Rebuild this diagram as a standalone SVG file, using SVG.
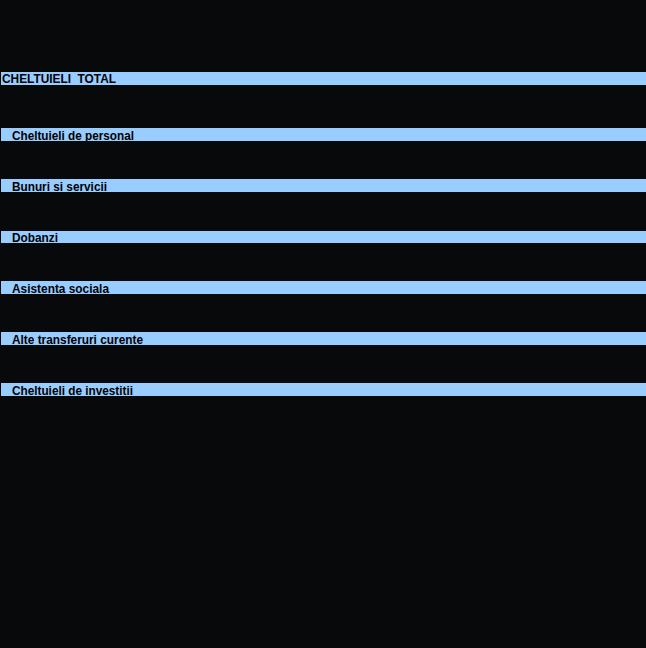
<svg xmlns="http://www.w3.org/2000/svg" width="646" height="648" viewBox="0 0 646 648">
<style>
.bar{fill:#99ccff}
.lbl{font-family:"Liberation Sans",Arial,sans-serif;font-weight:bold;font-size:13px;fill:#000}
</style>
<defs>
<clipPath id="c1"><rect x="1" y="72" width="645" height="13"/></clipPath>
<clipPath id="c2"><rect x="1" y="128" width="645" height="13"/></clipPath>
<clipPath id="c3"><rect x="1" y="179" width="645" height="13"/></clipPath>
<clipPath id="c4"><rect x="1" y="231" width="645" height="12"/></clipPath>
<clipPath id="c5"><rect x="1" y="281" width="645" height="13"/></clipPath>
<clipPath id="c6"><rect x="1" y="332" width="645" height="13"/></clipPath>
<clipPath id="c7"><rect x="1" y="383" width="645" height="13"/></clipPath>
</defs>
<rect width="646" height="648" fill="#08090b"/>
<g id="row-total"><rect class="bar" x="1" y="72" width="645" height="13"/><text class="lbl" x="2" y="83" xml:space="preserve" textLength="114" lengthAdjust="spacingAndGlyphs" clip-path="url(#c1)">CHELTUIELI  TOTAL</text></g>
<g id="row-personal"><rect class="bar" x="1" y="128" width="645" height="13"/><text class="lbl" x="12" y="139.5" textLength="122" lengthAdjust="spacingAndGlyphs" clip-path="url(#c2)">Cheltuieli de personal</text></g>
<g id="row-bunuri"><rect class="bar" x="1" y="179" width="645" height="13"/><text class="lbl" x="12" y="190.5" textLength="95" lengthAdjust="spacingAndGlyphs" clip-path="url(#c3)">Bunuri si servicii</text></g>
<g id="row-dobanzi"><rect class="bar" x="1" y="231" width="645" height="12"/><text class="lbl" x="12" y="241.5" textLength="46" lengthAdjust="spacingAndGlyphs" clip-path="url(#c4)">Dobanzi</text></g>
<g id="row-asistenta"><rect class="bar" x="1" y="281" width="645" height="13"/><text class="lbl" x="12" y="292.5" textLength="97" lengthAdjust="spacingAndGlyphs" clip-path="url(#c5)">Asistenta sociala</text></g>
<g id="row-transferuri"><rect class="bar" x="1" y="332" width="645" height="13"/><text class="lbl" x="12" y="343.5" textLength="131" lengthAdjust="spacingAndGlyphs" clip-path="url(#c6)">Alte transferuri curente</text></g>
<g id="row-investitii"><rect class="bar" x="1" y="383" width="645" height="13"/><text class="lbl" x="12" y="394.5" textLength="121" lengthAdjust="spacingAndGlyphs" clip-path="url(#c7)">Cheltuieli de investitii</text></g>
<g id="connectors"/>
</svg>
